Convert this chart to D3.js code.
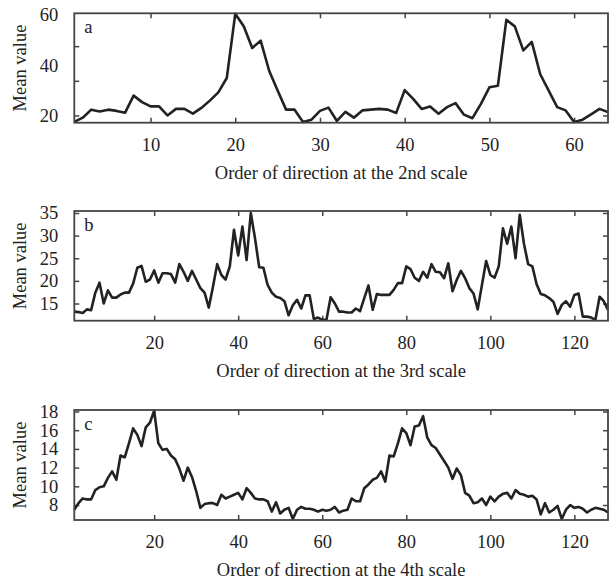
<!DOCTYPE html>
<html>
<head>
<meta charset="utf-8">
<script src="https://cdn.jsdelivr.net/npm/d3@7"></script>
<style>
  body { margin: 0; background: #fff; }
  text { font-family: "Liberation Serif", "Times New Roman", serif; fill: #222; }
</style>
</head>
<body>
<script>
// mean value per direction
var valuesA = [17.4, 19.1, 22.3, 21.6, 22.3, 21.8, 21.1, 27.9, 25.3, 23.6,
  23.6, 20.0, 22.6, 22.6, 20.7, 23.0, 25.9, 29.2, 34.9, 60.5,
  55.5, 46.9, 49.8, 37.8, 29.9, 22.3, 22.3, 17.4, 18.3, 21.8,
  23.1, 17.8, 21.4, 19.1, 22.0, 22.3, 22.6, 22.3, 21.0, 30.1,
  26.6, 22.6, 23.6, 20.7, 23.3, 24.9, 20.3, 18.9, 24.6, 31.2,
  31.8, 58.1, 55.5, 45.9, 49.3, 36.4, 29.9, 23.3, 22.0, 17.4,
  18.3, 20.4, 22.6, 21.3];

var valuesB = [13.2, 13.1, 12.9, 13.7, 13.5, 17.4, 19.6, 15.0, 17.9, 16.3,
  16.3, 17.0, 17.4, 17.4, 19.4, 22.9, 23.3, 19.8, 20.3, 22.3,
  19.6, 21.7, 21.7, 21.5, 19.6, 23.7, 22.0, 20.0, 22.2, 20.3,
  18.4, 17.4, 14.1, 18.7, 23.7, 21.3, 20.3, 23.2, 31.3, 25.6,
  32.0, 24.6, 35.0, 29.4, 23.0, 22.9, 19.1, 17.4, 16.5, 16.2,
  15.5, 12.4, 14.6, 15.8, 13.9, 16.8, 16.8, 11.6, 11.9, 11.4,
  11.4, 16.4, 15.0, 13.2, 13.2, 13.0, 13.0, 13.9, 13.3, 16.2,
  19.0, 13.6, 17.1, 16.9, 16.9, 16.9, 18.0, 19.5, 19.5, 23.2,
  22.6, 20.7, 20.0, 22.0, 20.7, 23.7, 22.0, 21.9, 20.6, 23.9,
  17.7, 20.2, 22.2, 20.6, 18.4, 17.2, 13.7, 19.1, 24.4, 21.3,
  20.7, 23.2, 31.6, 28.2, 32.0, 25.0, 34.6, 28.2, 23.7, 23.2,
  19.3, 17.1, 16.8, 16.2, 15.4, 12.7, 14.7, 15.5, 14.3, 16.9,
  17.2, 12.1, 12.1, 11.9, 11.4, 16.5, 15.5, 13.6];

var valuesC = [7.5, 8.2, 8.7, 8.6, 8.6, 9.6, 9.9, 10.0, 10.9, 11.6,
  10.7, 13.3, 13.1, 14.6, 16.2, 15.5, 14.3, 16.3, 16.8, 18.1,
  14.6, 13.9, 14.0, 13.3, 12.9, 11.9, 10.6, 12.0, 11.0, 9.5,
  7.7, 8.1, 8.2, 8.2, 8.0, 9.1, 8.7, 8.9, 9.1, 9.3,
  8.6, 9.8, 9.3, 8.7, 8.6, 8.6, 8.4, 7.3, 8.3, 7.1,
  7.5, 7.7, 6.5, 7.5, 7.8, 7.6, 7.6, 7.5, 7.3, 7.5,
  7.4, 7.5, 7.8, 7.2, 7.4, 7.5, 8.7, 8.4, 8.4, 9.8,
  10.2, 10.7, 10.9, 11.6, 10.5, 13.3, 13.2, 14.6, 16.2, 15.7,
  14.4, 16.4, 16.5, 17.5, 15.2, 14.4, 14.1, 13.4, 12.7, 12.0,
  10.8, 11.9, 11.2, 9.3, 9.0, 8.2, 8.3, 8.7, 8.0, 8.9,
  8.4, 8.9, 9.2, 9.3, 8.7, 9.6, 9.2, 9.1, 8.9, 9.0,
  8.6, 7.0, 8.2, 7.2, 7.5, 7.9, 6.5, 7.5, 8.0, 7.7,
  7.8, 7.6, 7.2, 7.5, 7.7, 7.6, 7.5, 7.2];

var xTicksA = [10, 20, 30, 40, 50, 60];
var xTicksBC = [20, 40, 60, 80, 100, 120];
var yLabelsA = [20, 40, 60];
var yMarksA = [20, 33.8, 47.6];
var yLabelsB = [15, 20, 25, 30, 35];
var yLabelsC = [8, 10, 12, 14, 16, 18];
var panelLetters = ["a", "b", "c"];
var xTitles = ["Order of direction at the 2nd scale",
  "Order of direction at the 3rd scale",
  "Order of direction at the 4th scale"];

var width = 613, height = 585;
var left = 74.3, right = 608;

var panels = [
  {values: valuesA, top: 13.3, bottom: 122.7, yDomain: [17.1, 60.7], xTicks: xTicksA, yLabels: yLabelsA, yMarks: yMarksA},
  {values: valuesB, top: 211, bottom: 320.7, yDomain: [11.2, 35.44], xTicks: xTicksBC, yLabels: yLabelsB, yMarks: yLabelsB},
  {values: valuesC, top: 410, bottom: 520, yDomain: [6.4, 18.16], xTicks: xTicksBC, yLabels: yLabelsC, yMarks: yLabelsC}
];

var svg = d3.select("body").append("svg")
  .attr("width", width)
  .attr("height", height);

panels.forEach(function (p, k) {
  var n = p.values.length;
  var x = d3.scaleLinear().domain([1, n]).range([left, right]);
  var y = d3.scaleLinear().domain(p.yDomain).range([p.bottom, p.top]);
  var g = svg.append("g");

  // inward tick marks on all four sides
  var marks = [
    {axis: d3.axisBottom(x).tickValues(p.xTicks), t: "translate(0," + p.bottom + ")"},
    {axis: d3.axisTop(x).tickValues(p.xTicks), t: "translate(0," + p.top + ")"},
    {axis: d3.axisLeft(y).tickValues(p.yMarks), t: "translate(" + left + ",0)"},
    {axis: d3.axisRight(y).tickValues(p.yMarks), t: "translate(" + right + ",0)"}
  ];
  marks.forEach(function (m) {
    var a = g.append("g").attr("transform", m.t)
      .call(m.axis.tickSize(-5).tickFormat(""));
    a.select(".domain").remove();
    a.selectAll("line").attr("stroke", "#444").attr("stroke-width", 1.5);
  });

  // tick labels
  var xl = g.append("g").attr("transform", "translate(0," + p.bottom + ")")
    .call(d3.axisBottom(x).tickValues(p.xTicks).tickSize(0).tickPadding(15));
  var yl = g.append("g").attr("transform", "translate(" + left + ",0)")
    .call(d3.axisLeft(y).tickValues(p.yLabels).tickSize(0).tickPadding(16));
  [xl, yl].forEach(function (a) {
    a.select(".domain").remove();
    a.selectAll("text").attr("font-size", "18.5px")
      .attr("font-family", "'Liberation Serif', 'Times New Roman', serif")
      .attr("fill", "#222");
  });

  // the series
  var line = d3.line()
    .x(function (d, i) { return x(i + 1); })
    .y(function (d) { return y(d); });
  g.append("path")
    .datum(p.values)
    .attr("d", line)
    .attr("fill", "none")
    .attr("stroke", "#222")
    .attr("stroke-width", 2.6)
    .attr("stroke-linejoin", "round");

  // frame
  g.append("rect")
    .attr("x", left).attr("y", p.top)
    .attr("width", right - left).attr("height", p.bottom - p.top)
    .attr("fill", "none")
    .attr("stroke", "#444")
    .attr("stroke-width", 1.8);

  g.append("text")
    .attr("x", left + 10).attr("y", p.top + 20)
    .attr("font-size", "18.5px")
    .text(panelLetters[k]);

  g.append("text")
    .attr("x", (left + right) / 2).attr("y", p.bottom + 56)
    .attr("text-anchor", "middle")
    .attr("font-size", "18.5px")
    .text(xTitles[k]);

  g.append("text")
    .attr("transform", "translate(26," + (p.top + p.bottom) / 2 + ") rotate(-90)")
    .attr("text-anchor", "middle")
    .attr("font-size", "18.5px")
    .text("Mean value");
});
</script>
</body>
</html>
